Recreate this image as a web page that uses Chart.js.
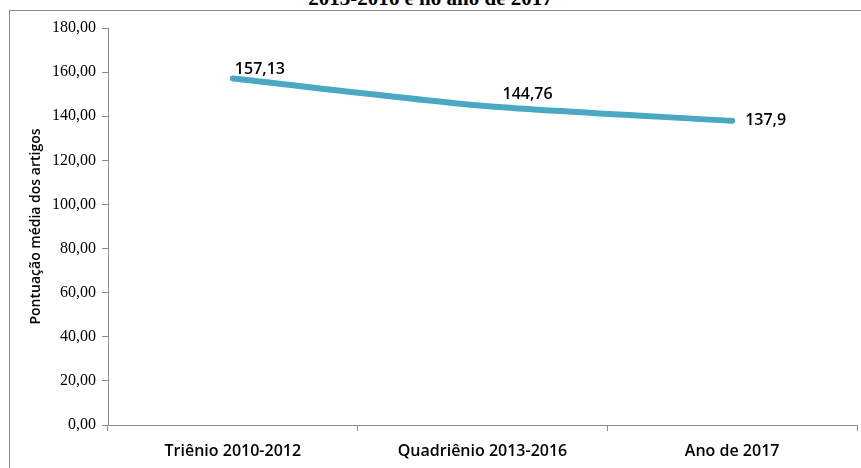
<!DOCTYPE html>
<html>
<head>
<meta charset="utf-8">
<script src="https://cdn.jsdelivr.net/npm/chart.js@4"></script>
<style>
    body { margin: 0; width: 861px; height: 468px; overflow: hidden; background: #fff; position: relative; }
    #moldura { position: absolute; left: 9px; top: 10px; width: 870px; height: 480px; border: 1px solid #8c8c8c; }
    #titulo { position: absolute; left: 0; width: 861px; top: -14px; text-align: center;
        font: bold 21px "Liberation Serif", "DejaVu Serif", serif; color: #000; }
    #caixa { position: absolute; left: 0; top: 0; width: 861px; height: 468px; }
</style>
</head>
<body>
<div id="titulo">2013-2016 e no ano de 2017</div>
<div id="moldura"></div>
<div id="caixa"><canvas id="grafico"></canvas></div>
<script>
// Dados
const periodos = ['Triênio 2010-2012', 'Quadriênio 2013-2016', 'Ano de 2017'];
const pontuacao = [157.13, 144.76, 137.9];
const rotulos = ['157,13', '144,76', '137,9'];
const eixoY = { min: 0, max: 180, passo: 20 };

// Deslocamento dos rótulos de valor (em px) em relação ao ponto
const deslocRotulos = [[2, -9], [20, -11], [13, 0]];

const rotulosValores = {
    id: 'rotulosValores',
    afterDatasetsDraw(chart) {
        const ctx = chart.ctx;
        const meta = chart.getDatasetMeta(0);
        ctx.save();
        ctx.font = '600 16px "Open Sans", "Liberation Sans", sans-serif';
        ctx.fillStyle = '#000';
        ctx.textAlign = 'left';
        ctx.textBaseline = 'middle';
        meta.data.forEach((pt, i) => {
            const d = deslocRotulos[i];
            ctx.fillText(rotulos[i], pt.x + d[0], pt.y + d[1]);
        });
        ctx.restore();
    }
};

const ctx = document.getElementById('grafico').getContext('2d');
new Chart(ctx, {
    type: 'line',
    data: {
        labels: periodos,
        datasets: [{
            data: pontuacao,
            borderColor: '#4aa8c3',
            borderWidth: 6,
            borderCapStyle: 'round',
            tension: 0.25,
            pointRadius: 0,
            fill: false
        }]
    },
    plugins: [rotulosValores],
    options: {
        responsive: true,
        maintainAspectRatio: false,
        animation: false,
        layout: { padding: { left: 28, top: 28, right: 4, bottom: 0 } },
        plugins: {
            legend: { display: false },
            tooltip: { enabled: false }
        },
        scales: {
            x: {
                offset: true,
                afterFit: (s) => { s.height = 43; },
                grid: {
                    offset: true,
                    drawOnChartArea: false,
                    tickLength: 6,
                    color: '#8c8c8c'
                },
                border: { color: '#8c8c8c', width: 1 },
                ticks: {
                    color: '#000',
                    padding: 11,
                    maxRotation: 0,
                    font: { family: '"Open Sans", "Liberation Sans", sans-serif', size: 16, weight: '600' }
                }
            },
            y: {
                min: eixoY.min,
                max: eixoY.max,
                afterFit: (s) => { s.width = 80; },
                grid: {
                    drawOnChartArea: false,
                    tickLength: 6,
                    color: '#8c8c8c'
                },
                border: { color: '#8c8c8c', width: 1 },
                ticks: {
                    stepSize: eixoY.passo,
                    color: '#000',
                    padding: 6,
                    font: { family: '"Liberation Serif", serif', size: 16 },
                    callback: (v) => v.toFixed(2).replace('.', ',')
                },
                title: {
                    display: true,
                    text: 'Pontuação média dos artigos',
                    color: '#000',
                    padding: { top: 0, bottom: 4 },
                    font: { family: '"Open Sans", "Liberation Sans", sans-serif', size: 14, weight: '600' }
                }
            }
        }
    }
});
</script>
</body>
</html>
